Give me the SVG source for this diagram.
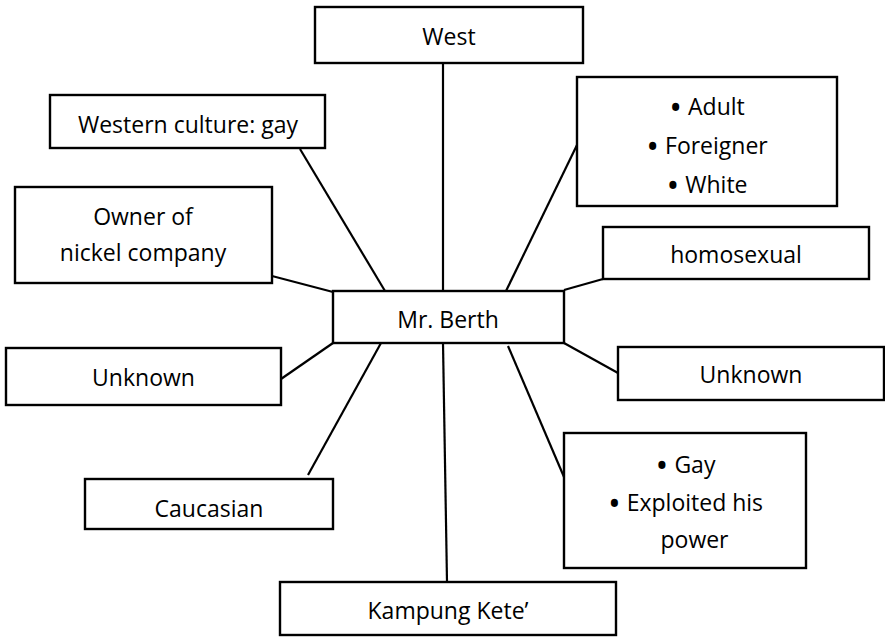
<svg xmlns="http://www.w3.org/2000/svg" width="885" height="639" viewBox="0 0 885 639">
<style>
rect{fill:#fff;stroke:#000;stroke-width:2.4}
line{stroke:#000;stroke-width:2.2}
text{font-family:"Open Sans","Liberation Sans",sans-serif;font-size:23px;fill:#000;text-anchor:middle}
.b{font-size:34px}
</style>
<rect x="0" y="0" width="885" height="639" style="stroke:none"/>
<g id="connectors">
<line x1="443" y1="63" x2="443" y2="291"/>
<line x1="443" y1="343" x2="447" y2="582"/>
<line x1="300" y1="149" x2="385" y2="291"/>
<line x1="272" y1="276" x2="333" y2="292"/>
<line x1="506" y1="291" x2="577" y2="145"/>
<line x1="564" y1="290" x2="603" y2="279"/>
<line x1="333" y1="343" x2="281" y2="379"/>
<line x1="381" y1="343" x2="308" y2="475"/>
<line x1="564" y1="343" x2="618" y2="373"/>
<line x1="508" y1="346" x2="564" y2="477"/>
</g>
<g id="west"><rect x="315" y="7" width="268" height="56"/><text x="449" y="45">West</text></g>
<g id="western-culture"><rect x="50" y="95" width="275" height="53"/><text x="188" y="133">Western culture: gay</text></g>
<g id="owner"><rect x="15" y="187" width="257" height="96"/><text x="143" y="225">Owner of</text><text x="143" y="261">nickel company</text></g>
<g id="mr-berth"><rect x="333" y="291" width="231" height="52"/><text x="448" y="328">Mr. Berth</text></g>
<g id="attributes"><rect x="577" y="77" width="260" height="129"/><text x="707" y="115"><tspan class="b" dy="5">•</tspan><tspan dx="6" dy="-5">Adult</tspan></text><text x="707" y="154"><tspan class="b" dy="5">•</tspan><tspan dx="6" dy="-5">Foreigner</tspan></text><text x="707" y="193"><tspan class="b" dy="5">•</tspan><tspan dx="6" dy="-5">White</tspan></text></g>
<g id="homosexual"><rect x="603" y="227" width="266" height="52"/><text x="736" y="263">homosexual</text></g>
<g id="unknown-left"><rect x="6" y="348" width="275" height="57"/><text x="143.5" y="386">Unknown</text></g>
<g id="unknown-right"><rect x="618" y="347" width="266" height="53"/><text x="751" y="383">Unknown</text></g>
<g id="caucasian"><rect x="85" y="479" width="248" height="50"/><text x="209" y="517">Caucasian</text></g>
<g id="gay"><rect x="564" y="433" width="242" height="135"/><text x="685.5" y="473"><tspan class="b" dy="5">•</tspan><tspan dx="6" dy="-5">Gay</tspan></text><text x="685.5" y="511"><tspan class="b" dy="5">•</tspan><tspan dx="6" dy="-5">Exploited his</tspan></text><text x="694.5" y="548">power</text></g>
<g id="kampung"><rect x="280" y="582" width="336" height="53"/><text x="448" y="619">Kampung Kete’</text></g>
</svg>
